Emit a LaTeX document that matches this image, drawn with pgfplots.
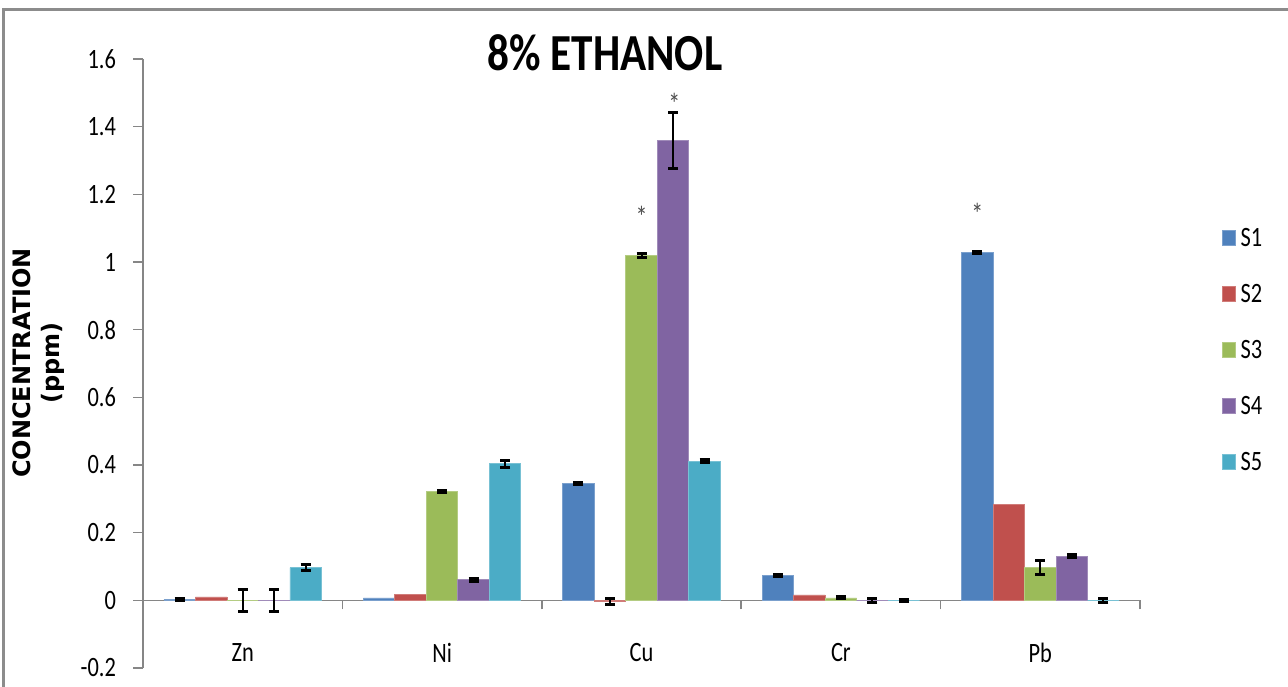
\documentclass[border=0pt]{standalone}
\usepackage{fontspec}
\usepackage{pgfplots}
\usepackage{pgfplotstable}
\pgfplotsset{compat=1.18}
\setmainfont{Carlito}
\newfontfamily\narrowfont[FakeStretch=0.8]{Carlito}
\newfontfamily\titlefont[FakeStretch=0.83]{Carlito}
\newfontfamily\axislabelfont{DejaVu Sans}

\definecolor{sOne}{HTML}{4F81BD}
\definecolor{sTwo}{HTML}{C0504D}
\definecolor{sThree}{HTML}{9BBB59}
\definecolor{sFour}{HTML}{8064A2}
\definecolor{sFive}{HTML}{4BACC6}
\definecolor{axisGray}{HTML}{868686}
\definecolor{frameGray}{HTML}{8C8C8C}

% mean concentration (ppm) and standard error per metal; nan = no error bar
\pgfplotstableread{
x y e
0 0.002 0.003
1 0.007 nan
2 0.345 0.004
3 0.073 0.004
4 1.028 0.004
}\dataSone
\pgfplotstableread{
x y e
0 0.010 nan
1 0.017 nan
2 -0.003 0.008
3 0.016 nan
4 0.283 nan
}\dataStwo
\pgfplotstableread{
x y e
0 0.000 0.033
1 0.323 0.003
2 1.020 0.006
3 0.007 0.003
4 0.097 0.021
}\dataSthree
\pgfplotstableread{
x y e
0 0.000 0.033
1 0.061 0.004
2 1.358 0.083
3 0.000 0.005
4 0.131 0.004
}\dataSfour
\pgfplotstableread{
x y e
0 0.097 0.010
1 0.404 0.010
2 0.411 0.004
3 0.000 0.002
4 0.000 0.006
}\dataSfive

% each sample sits at its own slot inside the metal's group (slot width 0.158)
\pgfplotsset{
  metalbar/.style={ybar, bar width=0.158, bar shift=0pt,
    draw=#1!75!white, line width=0.4pt, fill=#1,
    error bars/y dir=both, error bars/y explicit,
    error bars/error bar style={draw=black, line width=1pt},
    error bars/error mark options={draw=black, rotate=90, line width=1.5pt, mark size=2.5pt}},
}

\begin{document}
\begin{tikzpicture}
\path[use as bounding box] (0,0) rectangle (644pt,343pt);
\draw[frameGray, line width=1.5pt] (1.75pt,-2pt) -- (1.75pt,338pt) -- (646pt,338pt);

\begin{axis}[
  at={(71.5pt,9pt)}, anchor=south west,
  scale only axis, width=498.5pt, height=304.5pt,
  xmin=-0.5, xmax=4.5, ymin=-0.2, ymax=1.6,
  axis x line*=middle, axis y line*=left,
  axis line style={axisGray, line width=0.75pt},
  tick align=outside,
  xtick={0,1,2,3,4},
  xticklabels={Zn,Ni,Cu,Cr,Pb},
  minor xtick={-0.5,0.5,1.5,2.5,3.5,4.5},
  major x tick style={draw=none},
  minor x tick style={axisGray, line width=0.75pt},
  minor tick length=4.5pt,
  ytick={-0.2,0,0.2,0.4,0.6,0.8,1,1.2,1.4,1.6},
  yticklabels={-0.2,0,0.2,0.4,0.6,0.8,1,1.2,1.4,1.6},
  y tick style={axisGray, line width=0.75pt},
  major tick length=5pt,
  xticklabel style={font=\narrowfont\fontsize{14}{16}\selectfont, yshift=-13pt},
  yticklabel style={font=\narrowfont\fontsize{14}{16}\selectfont, xshift=-5pt},
  legend style={at={(1.082,0.523)}, anchor=west, draw=none, fill=none,
    inner sep=0pt, row sep=19pt,
    font=\narrowfont\fontsize{14}{16}\selectfont,
    nodes={inner sep=0pt, text height=9pt, text depth=0pt}},
  legend cell align=left,
  legend image code/.code={\fill[#1] (0pt,-3.75pt) rectangle (6.5pt,3.75pt);},
  clip=false,
]
\addplot[metalbar=sOne] table[x expr=\thisrow{x}-0.316, y=y, y error=e] {\dataSone};
\addlegendentry{\,S1}
\addplot[metalbar=sTwo] table[x expr=\thisrow{x}-0.158, y=y, y error=e] {\dataStwo};
\addlegendentry{\,S2}
\addplot[metalbar=sThree] table[x expr=\thisrow{x}, y=y, y error=e] {\dataSthree};
\addlegendentry{\,S3}
\addplot[metalbar=sFour] table[x expr=\thisrow{x}+0.158, y=y, y error=e] {\dataSfour};
\addlegendentry{\,S4}
\addplot[metalbar=sFive] table[x expr=\thisrow{x}+0.316, y=y, y error=e] {\dataSfive};
\addlegendentry{\,S5}

% significance markers
\node[font=\narrowfont\fontsize{15}{16}\selectfont, text=black!70] at (axis cs:2,1.133) {*};
\node[font=\narrowfont\fontsize{15}{16}\selectfont, text=black!70] at (axis cs:2.165,1.468) {*};
\node[font=\narrowfont\fontsize{15}{16}\selectfont, text=black!70] at (axis cs:3.684,1.142) {*};
\end{axis}

\node[font=\titlefont\bfseries\fontsize{26}{30}\selectfont] at (302.5pt,316.5pt) {8\% ETHANOL};
\node[rotate=90, align=center, font=\axislabelfont\bfseries\fontsize{12}{14.5}\selectfont] at (19.25pt,161.5pt) {CONCENTRATION\\(ppm)};
\end{tikzpicture}
\end{document}
